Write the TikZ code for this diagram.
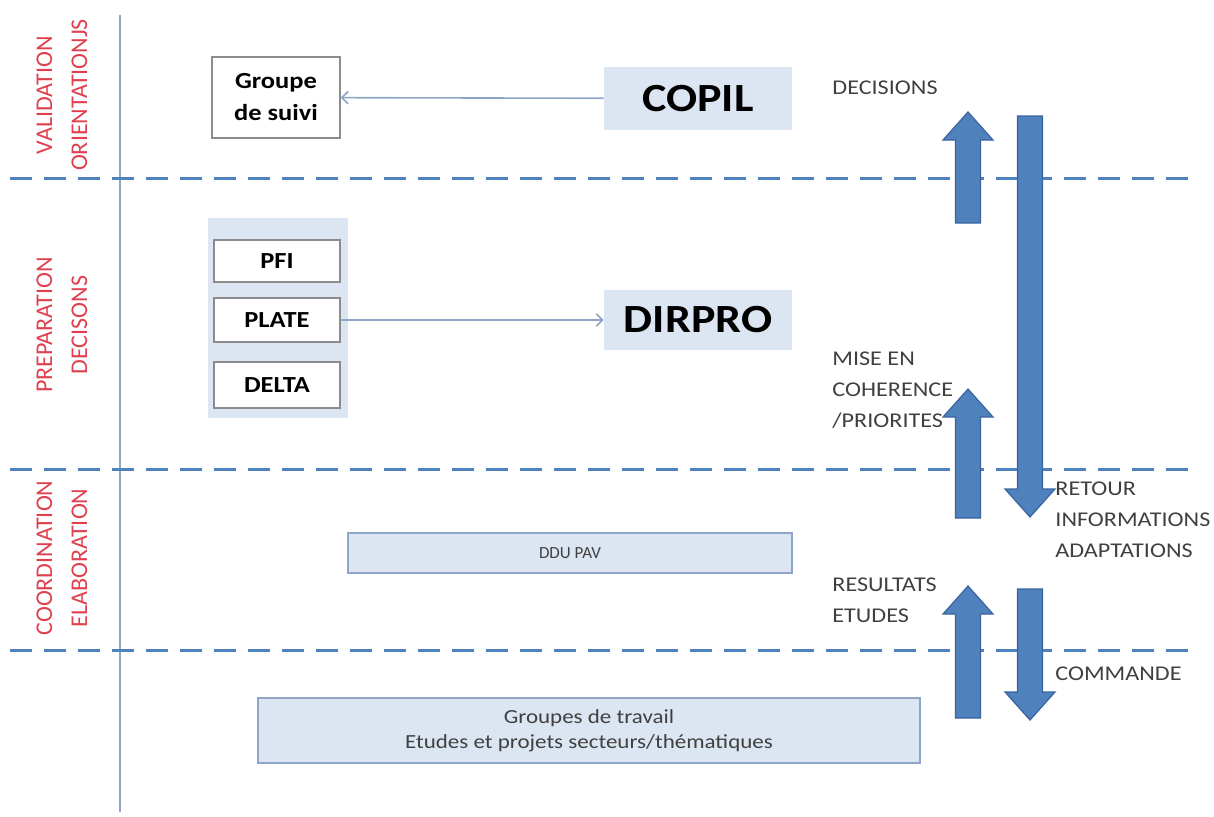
\documentclass[tikz,border=0pt]{standalone}
\usepackage{fontspec}
\setmainfont{Carlito}
\newfontfamily\widesans[FakeStretch=1.15]{Carlito}
\usetikzlibrary{arrows.meta}

\definecolor{paleblue}{HTML}{DCE6F2}
\definecolor{framegray}{HTML}{8C8C8C}
\definecolor{linkblue}{HTML}{8EA5C8}
\definecolor{bandblue}{HTML}{4F81BD}
\definecolor{arrowedge}{HTML}{3A64A0}
\definecolor{levelred}{HTML}{E0404E}
\definecolor{notegray}{HTML}{404040}

\tikzset{>=Straight Barb,
  whitebox/.style={draw=framegray, line width=0.8pt, fill=white},
  bluebox/.style={fill=paleblue, font=\widesans\bfseries\fontsize{20}{22}\selectfont},
  boxlabel/.style={font=\widesans\bfseries\fontsize{11.5}{13}\selectfont},
  bandbox/.style={draw=linkblue, line width=0.8pt, fill=paleblue},
  link/.style={->, draw=linkblue, line width=0.8pt},
  band/.style={dashed, draw=bandblue, line width=1.5pt, dash pattern=on 11pt off 6pt},
  levelname/.style={rotate=90, text=levelred, align=center, font=\fontsize{12}{17.5}\selectfont},
  note/.style={anchor=west, text=notegray, align=left, font=\widesans\fontsize{10.5}{15.5}\selectfont, inner sep=0pt},
  bigarrow/.style={fill=bandblue, draw=arrowedge, line width=0.6pt}
}
% block arrow: centre x, tail y, tip y (head 28 long)
\newcommand{\blockarrow}[3]{%
  \pgfmathsetmacro{\hb}{#3+28*sign(#2-#3)}
  \filldraw[bigarrow] (#1-12.5,#2) -- (#1-12.5,\hb) -- (#1-25,\hb) -- (#1,#3)
    -- (#1+25,\hb) -- (#1+12.5,\hb) -- (#1+12.5,#2) -- cycle;}

\begin{document}
\begin{tikzpicture}[x=0.5pt, y=-0.5pt]
    \useasboundingbox (0,0) rectangle (1214,816);

    % levels
    \draw[linkblue, line width=0.8pt] (120,15) -- (120,812);
    \foreach \y in {178,469,650}
        \draw[band] (10,\y) -- (1188,\y);
    \node[levelname] (valid) at (62,95) {VALIDATION\\ORIENTATIONJS};
    \node[levelname] (prepa) at (62,325) {PREPARATION\\DECISONS};
    \node[levelname] (coord) at (62,558) {COORDINATION\\ELABORATION};

    % top level
    \node[whitebox, minimum width=64pt, minimum height=40.5pt, align=center,
          font=\widesans\bfseries\fontsize{11.5}{16}\selectfont] (suivi) at (276,97.5) {Groupe\\de suivi};
    \node[bluebox, minimum width=94pt, minimum height=31.5pt] (copil) at (698,98.5) {COPIL};
    \draw[link] (copil) -- (suivi);

    % middle level
    \node[fill=paleblue, minimum width=70pt, minimum height=100pt] (panel) at (278,318) {};
    \node[whitebox, boxlabel, minimum width=63pt, minimum height=21pt] (pfi) at (277,261) {PFI};
    \node[whitebox, boxlabel, minimum width=63pt, minimum height=22pt] (plate) at (277,320) {PLATE};
    \node[whitebox, boxlabel, minimum width=63pt, minimum height=23pt] (delta) at (277,385) {DELTA};
    \node[bluebox, minimum width=94pt, minimum height=30pt] (dirpro) at (698,320) {DIRPRO};
    \draw[link] (plate) -- (dirpro);

    % lower levels
    \node[bandbox, minimum width=222pt, minimum height=20pt, text=notegray,
          font=\fontsize{8.5}{10}\selectfont] (ddu) at (570,553) {DDU PAV};
    \node[bandbox, minimum width=331pt, minimum height=32.5pt, align=center, text=notegray,
          font=\widesans\fontsize{10}{12.5}\selectfont] (groupes) at (589,730.5)
          {Groupes de travail\\Etudes et projets secteurs/thématiques};

    % flows
    \blockarrow{968}{223}{112}
    \blockarrow{1030}{116}{517}
    \blockarrow{968}{518}{389}
    \blockarrow{968}{718}{586}
    \blockarrow{1030}{589}{720}

    \node[note] (decis) at (832,88) {DECISIONS};
    \node[note] (mise) at (832,390) {MISE EN\\COHERENCE\\/PRIORITES};
    \node[note] (retour) at (1055,520) {RETOUR\\INFORMATIONS\\ADAPTATIONS};
    \node[note] (result) at (832,600) {RESULTATS\\ETUDES};
    \node[note] (cmd) at (1055,674) {COMMANDE};
\end{tikzpicture}
\end{document}
